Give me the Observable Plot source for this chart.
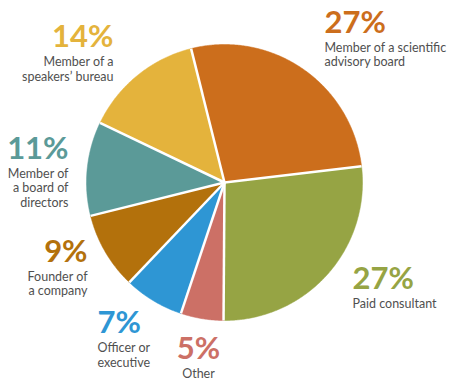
<!DOCTYPE html>
<html><head><meta charset="utf-8">
<script src="https://cdn.jsdelivr.net/npm/d3@7"></script>
<script src="https://cdn.jsdelivr.net/npm/@observablehq/plot@0.6"></script>
<style>body{margin:0;background:#fff}#chart svg{display:block}</style>
</head><body><div id="chart"></div>
<script>
// ---- data ----
const categories = ["Member of a scientific advisory board", "Paid consultant", "Other", "Officer or executive", "Founder of a company", "Member of a board of directors", "Member of a speakers’ bureau"];
const labelLines = ["Member of a scientific\nadvisory board", "Paid consultant", "Other", "Officer or\nexecutive", "Founder of\na company", "Member of\na board of\ndirectors", "Member of a\nspeakers’ bureau"];
const values = [27, 27, 5, 7, 9, 11, 14];
const colors = ["#cc6e1c", "#96a444", "#cc7066", "#2e96d4", "#b3710c", "#5b9a98", "#e4b33c"];

// ---- layout ----
const W = 450, H = 391, cx = 224, cy = 182, R = 138;
const startDeg = -14;
const labelLayout = [
  {anchor: "start",  dx: 21.6,  dy: -36.4},
  {anchor: "start",  dx: 25.1,  dy: 15.0},
  {anchor: "middle", dx: -3.5,  dy: 40.8},
  {anchor: "start",  dx: -55.9, dy: 32.7},
  {anchor: "end",    dx: -17.7, dy: 9.6},
  {anchor: "end",    dx: -18.7, dy: -10},
  {anchor: "end",    dx: -23.8, dy: -28.1}
];
const pctSize = 31, descSize = 12.5, descLH = 1.16, gap = 19;

const data = categories.map((c, i) => ({category: c, value: values[i], label: labelLines[i]}));
const a0 = startDeg * Math.PI / 180;
const arcs = d3.pie().sort(null).value(d => d.value).startAngle(a0).endAngle(a0 + 2 * Math.PI)(data);

const polys = arcs.flatMap(a => {
  const k = a.data.category;
  const pts = [{k, x: 0, y: 0}];
  const n = Math.max(2, Math.ceil((a.endAngle - a.startAngle) / (Math.PI / 360)));
  for (let j = 0; j <= n; j++) {
    const t = a.startAngle + (a.endAngle - a.startAngle) * j / n;
    pts.push({k, x: Math.sin(t), y: -Math.cos(t)});
  }
  pts.push({k, x: 0, y: 0});
  return pts;
});
const mid = a => (a.startAngle + a.endAngle) / 2;

const labelMarks = arcs.flatMap((a, i) => {
  const L = labelLayout[i];
  return [
    Plot.text([a], {
      x: d => Math.sin(mid(d)), y: d => -Math.cos(mid(d)),
      text: d => d.data.value + "%", fill: d => d.data.category,
      textAnchor: L.anchor, dx: L.dx, dy: L.dy, lineAnchor: "bottom",
      fontSize: pctSize, fontWeight: 700
    }),
    Plot.text([a], {
      x: d => Math.sin(mid(d)), y: d => -Math.cos(mid(d)),
      text: d => d.data.label, fill: "#505050",
      textAnchor: L.anchor, dx: L.dx, dy: L.dy + gap - 0.71 * descLH * descSize,
      lineAnchor: "top", lineHeight: descLH, fontSize: descSize
    })
  ];
});

const chart = Plot.plot({
  width: W, height: H, margin: 0,
  style: {fontFamily: "Lato, sans-serif", background: "white"},
  x: {domain: [-cx / R, (W - cx) / R], range: [0, W], axis: null},
  y: {domain: [-cy / R, (H - cy) / R], range: [0, H], axis: null},
  color: {domain: categories, range: colors},
  marks: [
    Plot.line(polys, {x: "x", y: "y", z: "k", fill: "k", stroke: "k", strokeWidth: 0.5, curve: "linear"}),
    Plot.link(arcs, {x1: () => 0, y1: () => 0, x2: d => Math.sin(d.startAngle), y2: d => -Math.cos(d.startAngle), stroke: "white", strokeWidth: 2.5}),
    ...labelMarks
  ]
});
document.getElementById("chart").appendChild(chart);
</script>
</body></html>
